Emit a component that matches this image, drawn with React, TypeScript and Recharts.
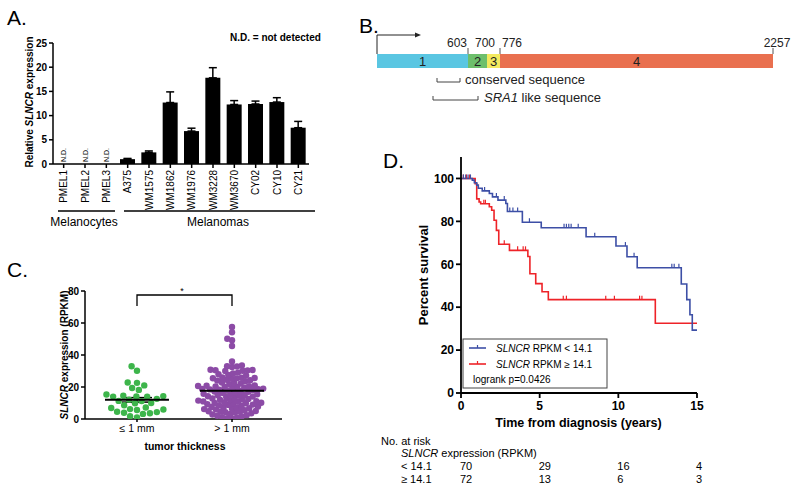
import React from 'react';
import {
  BarChart, Bar, XAxis, YAxis, ErrorBar, LabelList,
  Scatter, ComposedChart, Line,
} from 'recharts';

const FONT = '"Liberation Sans", Arial, Helvetica, sans-serif';

// ---------------- Panel A data ----------------
const cellLines = ['PMEL1', 'PMEL2', 'PMEL3', 'A375', 'WM1575', 'WM1862', 'WM1976', 'WM3228', 'WM3670', 'CY02', 'CY10', 'CY21'];
const relExpression = [0, 0, 0, 1.0, 2.4, 12.7, 6.8, 17.8, 12.3, 12.4, 12.8, 7.5];
const relExpressionSem = [0, 0, 0, 0.15, 0.3, 2.2, 0.6, 2.1, 0.8, 0.6, 0.9, 1.3];
const notDetected = [true, true, true, false, false, false, false, false, false, false, false, false];
const relExpressionTicks = [0, 5, 10, 15, 20, 25];

// ---------------- Panel B data ----------------
const exonNames = ['1', '2', '3', '4'];
const exonDiagramLengths = [91, 19, 13, 273]; // drawn lengths in the schematic (not to scale)
const exonEndLabels = ['603', '700', '776', '2257'];
const exonColors = ['#5AC6E2', '#6DBF6C', '#F3E95F', '#E9704F'];

// ---------------- Panel C data ----------------
const thicknessGroups = ['\u2264 1 mm', '> 1 mm'];
const thinTumorRpkm = [33.0, 30.2, 22.8, 22.6, 21.0, 19.4, 18.2, 15.3, 14.6, 14.3, 14.1, 14.0, 13.9, 12.6, 12.1, 11.3,
  11.2, 10.0, 9.8, 8.6, 7.2, 6.9, 6.2, 5.9, 5.6, 4.5, 4.3, 3.9, 3.6, 3.2, 1.7, 0.9];
const thickTumorRpkm = [57.5, 54.2, 50.2, 49.2, 45.6, 36.0, 33.5, 33.0, 32.8, 32.5,
  30.8, 30.6, 30.5, 30.4, 30.2, 30.0,
  29.0, 28.5, 28.0, 27.5, 27.2,
  26.0, 25.8, 25.6, 25.5, 25.4, 25.2, 24.5, 24.2, 24.0, 23.6,
  22.8, 22.5, 22.2, 21.8, 21.0, 20.8, 20.6, 20.5, 20.4, 20.2, 20.0,
  19.6, 19.3, 19.0, 18.8, 18.6, 18.5, 18.3, 18.0, 17.8, 17.5, 17.2, 17.0,
  16.5, 16.2, 15.8, 15.5, 15.2, 15.0, 14.8, 14.5, 14.2, 14.0, 13.8,
  13.2, 12.8, 12.5, 12.2, 12.0, 11.8, 11.5, 11.2, 11.0, 10.8,
  10.5, 10.2, 10.0, 9.8, 9.5, 9.2, 9.0, 8.8, 8.5, 8.2,
  7.8, 7.5, 7.2, 7.0, 6.8, 6.5, 6.2, 6.0, 5.5, 5.0,
  4.8, 4.6, 4.5, 4.3, 4.0, 3.6, 3.2, 2.8, 2.4, 2.0, 1.6, 1.2, 0.8, 0.5, 0.3];
const rpkmTicks = [0, 20, 40, 60, 80];

// ---------------- Panel D data ----------------
const kmLowTime = [0, 0.72, 0.85, 1.0, 1.1, 1.35, 1.8, 2.0, 2.35, 2.85, 2.95, 3.9, 5.1, 7.95, 9.85, 10.55, 11.2, 14.0, 14.35, 14.55, 14.7, 15];
const kmLowSurvival = [100, 99.2, 98.0, 96.9, 95.4, 94.2, 93.0, 91.4, 89.9, 88.3, 84.6, 79.6, 77.0, 72.8, 68.5, 63.5, 58.4, 50.8, 43.5, 36.5, 29.3, 29.3];
const kmLowCensored = [0.15, 0.3, 0.45, 0.6, 1.5, 2.25, 2.75, 3.1, 3.3, 3.6, 4.35, 6.55, 6.7, 6.85, 7.0, 7.45, 8.5, 10.45, 11.0, 13.4, 13.55, 13.85];
const kmHighTime = [0, 0.9, 1.0, 1.15, 1.25, 1.8, 1.95, 2.1, 2.25, 2.4, 3.08, 4.25, 4.38, 4.75, 5.15, 5.55, 12.35, 15];
const kmHighSurvival = [100, 97.5, 90.5, 89, 88.2, 86.8, 85.2, 80.5, 75.8, 69.3, 66.5, 63.6, 55.6, 51, 47.2, 43.5, 32.5, 32.5];
const kmHighCensored = [0.15, 0.35, 0.55, 1.45, 1.55, 2.75, 3.6, 3.95, 4.1, 6.5, 6.7, 9.2, 9.75, 11.35, 11.5];
const riskTimes = [0, 5, 10, 15];
const riskLow = [70, 29, 16, 4];
const riskHigh = [72, 13, 6, 3];
const survivalTicks = [0, 20, 40, 60, 80, 100];

// ---------------- derived tables ----------------
const dataA = cellLines.map((name, i) => ({
  name, value: relExpression[i], err: [0, relExpressionSem[i]], nd: notDetected[i],
}));

const exonRow: any = { name: 'SLNCR' };
exonDiagramLengths.forEach((len, i) => { exonRow['e' + i] = len; exonRow['l' + i] = exonNames[i]; });
const exonBoundaries = exonDiagramLengths.map((_, i) => exonDiagramLengths.slice(0, i + 1).reduce((a, b) => a + b, 0));
const exonTotal = exonBoundaries[exonBoundaries.length - 1];

const C_DOMAIN: [number, number] = [-0.547, 1.526];
const C_PX_X = 197 / (C_DOMAIN[1] - C_DOMAIN[0]);
const C_PX_Y = 128 / 80;
function beeswarm(values: number[], group: number, minDist: number) {
  const order = values.map((_, i) => i).sort((a, b) => values[a] - values[b]);
  const placed: { px: number; py: number }[] = [];
  const pts: { x: number; y: number }[] = [];
  let flip = 1;
  for (const i of order) {
    const py = values[i] * C_PX_Y;
    const cands: number[] = [0];
    for (const q of placed) {
      const dy = Math.abs(q.py - py);
      if (dy < minDist) {
        const dx = Math.sqrt(minDist * minDist - dy * dy) + 0.01;
        cands.push(q.px + dx * flip, q.px - dx * flip);
      }
    }
    flip = -flip;
    cands.sort((a, b) => Math.abs(a) - Math.abs(b));
    let chosen = 0;
    for (const c of cands) {
      if (placed.every(q => (q.px - c) ** 2 + (q.py - py) ** 2 >= minDist * minDist - 0.01)) { chosen = c; break; }
    }
    placed.push({ px: chosen, py });
    pts.push({ x: group + chosen / C_PX_X, y: values[i] });
  }
  return pts;
}
function meanSem(values: number[]) {
  const n = values.length;
  const m = values.reduce((a, b) => a + b, 0) / n;
  const sd = Math.sqrt(values.reduce((a, b) => a + (b - m) ** 2, 0) / (n - 1));
  return { m, sem: sd / Math.sqrt(n) };
}
const thinPts = beeswarm(thinTumorRpkm, 0, 7.0);
const thickPts = beeswarm(thickTumorRpkm, 1, 5.0);
const thinStats = meanSem(thinTumorRpkm);
const thickStats = meanSem(thickTumorRpkm);
const summaryPts = [
  { x: 0, y: thinStats.m, sem: thinStats.sem },
  { x: 1, y: thickStats.m, sem: thickStats.sem },
];

const lowCurve = kmLowTime.map((t, i) => ({ t, s: kmLowSurvival[i] }));
const highCurve = kmHighTime.map((t, i) => ({ t, s: kmHighSurvival[i] }));
function survAt(times: number[], surv: number[], t: number) {
  let s = surv[0];
  for (let i = 0; i < times.length; i++) if (times[i] <= t) s = surv[i];
  return s;
}
const lowCens = kmLowCensored.map(t => ({ t, s: survAt(kmLowTime, kmLowSurvival, t) }));
const highCens = kmHighCensored.map(t => ({ t, s: survAt(kmHighTime, kmHighSurvival, t) }));

// ---------------- renderers ----------------
const axisStyle = { stroke: '#000', strokeWidth: 1.5 };
const boldTick = (size: number) => ({ fill: '#000', fontSize: size, fontWeight: 'bold' as const, fontFamily: FONT });

const CellTick = (props: any) => {
  const { x, y, payload, index } = props;
  return (
    <g>
      <text transform={`translate(${x + 3.5},${y}) rotate(-90)`} textAnchor="end" fontSize={10} fontFamily={FONT} fill="#000">
        {payload.value}
      </text>
      {notDetected[index] ? (
        <text transform={`translate(${x + 2.5},${y - 8}) rotate(-90)`} textAnchor="start" fontSize={7} fontFamily={FONT} fill="#000">
          N.D.
        </text>
      ) : null}
    </g>
  );
};

const ExonTick = (props: any) => {
  const { x, y, index } = props;
  const anchors = ['end', 'middle', 'start', 'middle'];
  const shift = [-1, -2, 2, 4];
  return (
    <g>
      {index !== 1 ? <line x1={x} x2={x} y1={y} y2={y + 6} stroke="#555" strokeWidth={1} /> : null}
      <text x={x + shift[index]} y={y - 1.5} textAnchor={anchors[index] as any} fontSize={12} fontFamily={FONT} fill="#222">
        {exonEndLabels[index]}
      </text>
    </g>
  );
};

const KMTick = (props: any) => {
  const { x, y, payload, index } = props;
  return (
    <g fontFamily={FONT}>
      <text x={x} y={y} dy="0.71em" textAnchor="middle" fontSize={12} fontWeight="bold" fill="#000">{payload.value}</text>
      <text x={x - 1} y={y + 69} textAnchor="start" fontSize={11} fill="#000">{riskLow[index]}</text>
      <text x={x - 1} y={y + 82} textAnchor="start" fontSize={11} fill="#000">{riskHigh[index]}</text>
    </g>
  );
};

const dot = (color: string) => (p: any) => <circle cx={p.cx} cy={p.cy} r={3.2} fill={color} />;
const meanShape = (p: any) => <line x1={p.cx - 32} x2={p.cx + 32} y1={p.cy} y2={p.cy} stroke="#000" strokeWidth={2} />;
const censorShape = (color: string) => (p: any) => (
  <line x1={p.cx} x2={p.cx} y1={p.cy} y2={p.cy - 4} stroke={color} strokeWidth={1.2} />
);

const BLUE = '#3D4FA6';
const RED = '#EE2328';

export default function App() {
  return (
    <div style={{ position: 'absolute', left: 0, top: 0, width: 800, height: 491, background: '#fff', fontFamily: FONT, overflow: 'hidden' }}>
      {/* Panel A */}
      <div style={{ position: 'absolute', left: 0, top: 0 }}>
        <BarChart width={330} height={240} data={dataA} margin={{ top: 43, right: 21, left: 0, bottom: 0 }} barSize={15}>
          <XAxis dataKey="name" interval={0} height={76} tickSize={4} tickMargin={2} axisLine={axisStyle} tickLine={axisStyle} tick={CellTick} />
          <YAxis domain={[0, 25]} ticks={relExpressionTicks} interval={0} width={53} tickSize={4} tickMargin={2}
            axisLine={axisStyle} tickLine={axisStyle} tick={boldTick(10)} />
          <Bar dataKey="value" fill="#000" isAnimationActive={false}>
            <ErrorBar dataKey="err" width={4} stroke="#000" strokeWidth={1.5} direction="y" />
          </Bar>
        </BarChart>
      </div>

      {/* Panel B */}
      <div style={{ position: 'absolute', left: 360, top: 0 }}>
        <BarChart layout="vertical" width={440} height={70} data={[exonRow]} margin={{ top: 0, right: 27, left: 17, bottom: 2 }} barCategoryGap={0}>
          <XAxis type="number" orientation="top" domain={[0, exonTotal]} ticks={exonBoundaries} interval={0} height={54}
            axisLine={false} tickLine={false} tickSize={6} tickMargin={0} tick={ExonTick} />
          <YAxis type="category" dataKey="name" hide />
          {exonNames.map((n, i) => (
            <Bar key={n} dataKey={'e' + i} stackId="exon" fill={exonColors[i]} isAnimationActive={false}>
              <LabelList dataKey={'l' + i} position="center" fill="#222" fontSize={13} fontFamily={FONT} />
            </Bar>
          ))}
        </BarChart>
      </div>

      {/* Panel C */}
      <div style={{ position: 'absolute', left: 0, top: 270 }}>
        <ComposedChart width={300} height={200} margin={{ top: 21, right: 18, left: 0, bottom: 0 }}>
          <XAxis type="number" dataKey="x" domain={C_DOMAIN} allowDataOverflow ticks={[0, 1]} interval={0}
            tickFormatter={(v: number) => thicknessGroups[v]} height={51} tickSize={3} tickMargin={3}
            axisLine={axisStyle} tickLine={axisStyle} tick={{ fill: '#000', fontSize: 10.5, fontFamily: FONT }} />
          <YAxis type="number" domain={[0, 80]} allowDataOverflow ticks={rpkmTicks} interval={0} width={85} tickSize={4} tickMargin={2}
            axisLine={axisStyle} tickLine={axisStyle} tick={boldTick(10)} />
          <Scatter data={thinPts} dataKey="y" shape={dot('#3DB54B')} isAnimationActive={false} />
          <Scatter data={thickPts} dataKey="y" shape={dot('#8C4BA6')} isAnimationActive={false} />
          <Scatter data={summaryPts} dataKey="y" shape={meanShape} isAnimationActive={false}>
            <ErrorBar dataKey="sem" width={15} stroke="#000" strokeWidth={1.5} direction="y" />
          </Scatter>
        </ComposedChart>
      </div>

      {/* Panel D */}
      <div style={{ position: 'absolute', left: 360, top: 130 }}>
        <ComposedChart width={360} height={361} margin={{ top: 27, right: 23, left: 0, bottom: 0 }}>
          <XAxis type="number" dataKey="t" domain={[0, 15]} ticks={riskTimes} interval={0} height={98} tickSize={5} tickMargin={3}
            axisLine={{ stroke: '#000', strokeWidth: 1.8 }} tickLine={{ stroke: '#000', strokeWidth: 1.8 }} tick={KMTick} allowDataOverflow />
          <YAxis type="number" domain={[0, 110]} ticks={survivalTicks} interval={0} width={101} tickSize={5} tickMargin={2}
            axisLine={{ stroke: '#000', strokeWidth: 1.8 }} tickLine={{ stroke: '#000', strokeWidth: 1.8 }} tick={boldTick(12)} allowDataOverflow />
          <Line data={highCurve} dataKey="s" type="stepAfter" stroke={RED} strokeWidth={1.6} dot={false} isAnimationActive={false} />
          <Line data={lowCurve} dataKey="s" type="stepAfter" stroke={BLUE} strokeWidth={1.6} dot={false} isAnimationActive={false} />
          <Scatter data={highCens} dataKey="s" shape={censorShape(RED)} isAnimationActive={false} />
          <Scatter data={lowCens} dataKey="s" shape={censorShape(BLUE)} isAnimationActive={false} />
        </ComposedChart>
      </div>

      {/* Annotations */}
      <svg width={800} height={491} style={{ position: 'absolute', left: 0, top: 0, pointerEvents: 'none' }} fontFamily={FONT}>
        {/* A */}
        <text x={7} y={25} fontSize={21} fill="#000">A.</text>
        <text x={230} y={41} fontSize={10} fontWeight="bold" fill="#000">N.D. = not detected</text>
        <text transform="translate(33,102) rotate(-90)" textAnchor="middle" fontSize={10} fontWeight="bold" fill="#000">
          Relative <tspan fontStyle="italic">SLNCR</tspan> expression
        </text>
        <line x1={58} x2={115} y1={211} y2={211} stroke="#000" strokeWidth={1.5} />
        <line x1={124} x2={315} y1={211} y2={211} stroke="#000" strokeWidth={1.5} />
        <text x={84} y={226} textAnchor="middle" fontSize={12} fill="#000">Melanocytes</text>
        <text x={218} y={226} textAnchor="middle" fontSize={12} fill="#000">Melanomas</text>

        {/* B */}
        <text x={359} y={33} fontSize={21} fill="#000">B.</text>
        <polyline points="377,54 377,35 416,35" fill="none" stroke="#222" strokeWidth={1} />
        <polygon points="421,35 415,32.5 415,37.5" fill="#222" />
        <polyline points="437,78 437,82 460,82 460,78" fill="none" stroke="#444" strokeWidth={1} />
        <text x={465} y={84} fontSize={13} fill="#222">conserved sequence</text>
        <polyline points="433,96 433,100 478,100 478,96" fill="none" stroke="#444" strokeWidth={1} />
        <text x={484} y={102} fontSize={13} fill="#222"><tspan fontStyle="italic">SRA1</tspan> like sequence</text>

        {/* C */}
        <text x={7} y={277} fontSize={21} fill="#000">C.</text>
        <polyline points="137,306 137,295 232,295 232,306" fill="none" stroke="#000" strokeWidth={1.3} />
        <text x={182} y={294} textAnchor="middle" fontSize={9} fill="#000">*</text>
        <text transform="translate(68,355) rotate(-90)" textAnchor="middle" fontSize={10} fontWeight="bold" fill="#000">
          <tspan fontStyle="italic">SLNCR</tspan> expression (RPKM)
        </text>
        <text x={185} y={450} textAnchor="middle" fontSize={10.5} fontWeight="bold" fill="#000">tumor thickness</text>

        {/* D */}
        <text x={383} y={168} fontSize={21} fill="#000">D.</text>
        <text transform="translate(428,275) rotate(-90)" textAnchor="middle" fontSize={13} fontWeight="bold" fill="#000">Percent survival</text>
        <text x={578.5} y={427} textAnchor="middle" fontSize={12.5} fontWeight="bold" fill="#000">Time from diagnosis (years)</text>
        <rect x={463} y={339} width={144} height={49} fill="#fff" stroke="#444" strokeWidth={1} />
        <line x1={469} x2={486} y1={348} y2={348} stroke={BLUE} strokeWidth={1.6} />
        <line x1={477.5} x2={477.5} y1={345} y2={348} stroke={BLUE} strokeWidth={1.2} />
        <text x={496} y={352} fontSize={10} fill="#000"><tspan fontStyle="italic">SLNCR</tspan> RPKM &lt; 14.1</text>
        <line x1={469} x2={486} y1={364} y2={364} stroke={RED} strokeWidth={1.6} />
        <line x1={477.5} x2={477.5} y1={361} y2={364} stroke={RED} strokeWidth={1.2} />
        <text x={496} y={368} fontSize={10} fill="#000"><tspan fontStyle="italic">SLNCR</tspan> RPKM {'\u2265'} 14.1</text>
        <text x={473} y={383} fontSize={10} fill="#000">logrank p=0.0426</text>
        <text x={381} y={445} fontSize={11} fill="#000">No. at risk</text>
        <text x={401} y={457} fontSize={11} fill="#000"><tspan fontStyle="italic">SLNCR</tspan> expression (RPKM)</text>
        <text x={401} y={470} fontSize={11} fill="#000">&lt; 14.1</text>
        <text x={401} y={483} fontSize={11} fill="#000">{'\u2265'} 14.1</text>
      </svg>
    </div>
  );
}
